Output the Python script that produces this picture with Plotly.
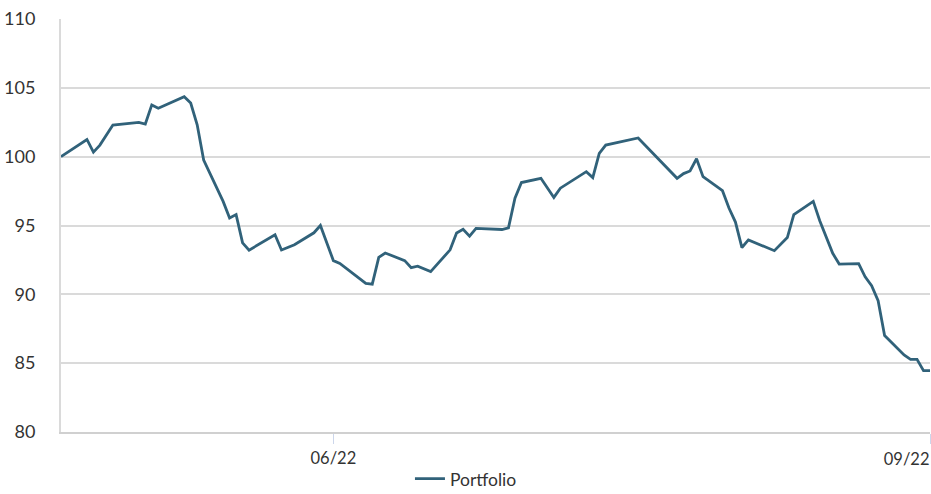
import plotly.graph_objects as go

# ---- data ----
dates = [
    "2022-05-19", "2022-05-23", "2022-05-24", "2022-05-25", "2022-05-27", "2022-05-31",
    "2022-06-01", "2022-06-02", "2022-06-03", "2022-06-07", "2022-06-08", "2022-06-09",
    "2022-06-10", "2022-06-13", "2022-06-14", "2022-06-15", "2022-06-16", "2022-06-17",
    "2022-06-21", "2022-06-22", "2022-06-24", "2022-06-27", "2022-06-28", "2022-06-30",
    "2022-07-01", "2022-07-05", "2022-07-06", "2022-07-07", "2022-07-08", "2022-07-11",
    "2022-07-12", "2022-07-13", "2022-07-15", "2022-07-18", "2022-07-19", "2022-07-20",
    "2022-07-21", "2022-07-22", "2022-07-26", "2022-07-27", "2022-07-28", "2022-07-29",
    "2022-08-01", "2022-08-03", "2022-08-04", "2022-08-08", "2022-08-09", "2022-08-10",
    "2022-08-11", "2022-08-16", "2022-08-22", "2022-08-23", "2022-08-24", "2022-08-25",
    "2022-08-26", "2022-08-29", "2022-08-30", "2022-08-31", "2022-09-01", "2022-09-02",
    "2022-09-06", "2022-09-08", "2022-09-09", "2022-09-12", "2022-09-13", "2022-09-14",
    "2022-09-15", "2022-09-16", "2022-09-19", "2022-09-20", "2022-09-21", "2022-09-22",
    "2022-09-23", "2022-09-26", "2022-09-27", "2022-09-28", "2022-09-29", "2022-09-30",
]
portfolio = [
    100.00, 101.25, 100.33, 100.84, 102.30, 102.49,
    102.37, 103.76, 103.52, 104.35, 103.90, 102.32,
    99.75, 96.75, 95.55, 95.79, 93.74, 93.21,
    94.33, 93.22, 93.60, 94.47, 95.00, 92.45,
    92.25, 90.80, 90.74, 92.69, 93.00, 92.45,
    91.94, 92.04, 91.65, 93.23, 94.45, 94.73,
    94.22, 94.79, 94.71, 94.83, 96.99, 98.12,
    98.43, 97.04, 97.71, 98.91, 98.48, 100.23,
    100.84, 101.36, 98.43, 98.77, 98.96, 99.85,
    98.55, 97.53, 96.27, 95.25, 93.40, 93.95,
    93.17, 94.12, 95.79, 96.75, 95.35, 94.20,
    92.98, 92.20, 92.23, 91.27, 90.62, 89.54,
    87.01, 85.60, 85.28, 85.28, 84.46, 84.46,
]
series_name = "Portfolio"
x_tick_vals = ["2022-06-30", "2022-09-30"]
x_tick_text = ["06/22", "09/22"]
y_ticks = [80, 85, 90, 95, 100, 105, 110]

LINE = "#31627a"
GRID = "#dadada"
TEXT = "#333333"
FONT = "Lato"

fig = go.Figure()
fig.add_trace(go.Scatter(
    x=dates, y=portfolio, name=series_name, mode="lines",
    line=dict(color=LINE, width=2.8),
    showlegend=True,
))
# empty helper trace so the overlay axis (right-aligned last label) is drawn
fig.add_trace(go.Scatter(x=[], y=[], xaxis="x2", yaxis="y",
                         showlegend=False, hoverinfo="skip"))

fig.update_layout(
    width=931, height=494,
    margin=dict(l=61, r=1, t=19, b=62, autoexpand=False),
    paper_bgcolor="white", plot_bgcolor="white",
    font=dict(family=FONT, size=16, color=TEXT),
    showlegend=True,
    legend=dict(orientation="h", x=0.466, xanchor="center", y=-0.157, yanchor="bottom",
                font=dict(family=FONT, size=17.5, color=TEXT), itemwidth=30),
)
fig.update_layout(
    xaxis=dict(
        type="date", range=[dates[0], dates[-1]], automargin=False,
        tickmode="array", tickvals=x_tick_vals, ticktext=[x_tick_text[0], ""],
        ticks="outside", ticklen=10, tickcolor="#ccd6eb", tickwidth=1,
        showgrid=False, showline=True, linecolor="#d0d0d0", linewidth=2,
        zeroline=False, tickfont=dict(family=FONT, size=16.5, color=TEXT),
    ),
    xaxis2=dict(
        type="date", range=[dates[0], dates[-1]], automargin=False,
        overlaying="x", side="bottom", anchor="y",
        tickmode="array", tickvals=[x_tick_vals[1]], ticktext=[x_tick_text[1]],
        ticklabelposition="outside left", ticklabelstandoff=12,
        ticks="outside", ticklen=10, tickcolor="rgba(0,0,0,0)",
        showgrid=False, showline=False, zeroline=False,
        tickfont=dict(family=FONT, size=16.5, color=TEXT),
    ),
    yaxis=dict(
        range=[80, 110], tickmode="array", tickvals=y_ticks, automargin=False,
        showgrid=True, gridcolor=GRID, gridwidth=1.5,
        showline=True, linecolor=GRID, linewidth=2,
        zeroline=False, ticks="", ticklabelstandoff=20,
        tickfont=dict(family=FONT, size=18, color=TEXT),
    ),
)

fig.write_html("out.html", config={"displayModeBar": False},
               post_script="document.body.style.margin='0';")
